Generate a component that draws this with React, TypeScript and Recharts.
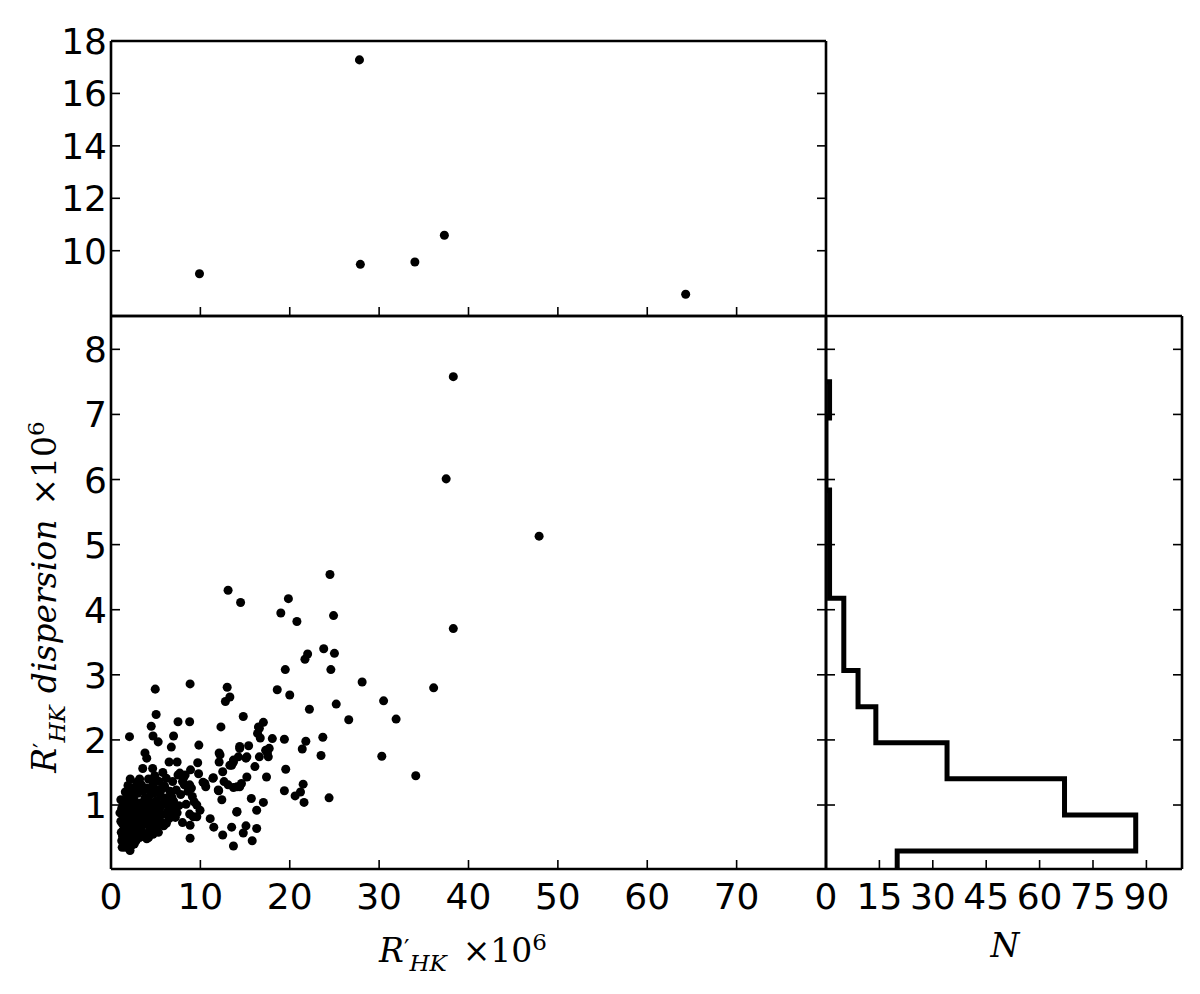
import React from "react";
import { ScatterChart, Scatter, XAxis, YAxis } from "recharts";

// outlier stars shown in the upper panel (R'HK x1e6, dispersion x1e6)
const topPoints: [number, number][] = [
  [9.9, 9.12], [27.8, 17.28], [27.9, 9.48], [34.0, 9.57], [37.3, 10.59], [64.3, 8.34],
];

// the bulk of the sample, main panel
const mainPoints: [number, number][] = [
  [38.3, 7.58], [37.5, 6.01], [47.9, 5.13], [24.5, 4.54], [24.9, 3.91], [38.3, 3.71],
  [13.1, 4.3], [14.5, 4.11], [19.85, 4.17], [19.0, 3.95], [20.8, 3.82],
  [23.8, 3.4], [25.0, 3.33], [22.0, 3.32], [21.7, 3.24], [19.5, 3.08], [24.6, 3.08],
  [28.1, 2.89], [30.5, 2.6], [31.9, 2.32], [26.6, 2.31], [25.2, 2.55], [22.2, 2.47],
  [18.6, 2.77], [20.0, 2.69], [36.1, 2.8],
  [4.95, 2.78], [8.85, 2.86], [13.0, 2.81], [13.3, 2.66], [12.8, 2.59], [14.8, 2.36],
  [5.05, 2.39], [7.5, 2.28], [8.8, 2.28], [4.5, 2.21], [12.3, 2.2], [16.5, 2.2], [17.05, 2.27],
  [2.07, 2.05], [4.7, 2.06], [5.28, 1.97], [7.0, 2.06], [6.75, 1.89], [9.83, 1.92],
  [14.4, 1.9], [15.4, 1.91], [16.6, 2.18], [16.4, 2.1], [16.7, 2.03], [18.05, 2.02], [19.4, 2.01],
  [23.7, 2.04], [21.8, 1.98], [21.4, 1.86], [23.5, 1.76], [30.3, 1.75],
  [17.7, 1.87], [17.5, 1.8], [17.3, 1.84], [16.6, 1.74], [15.1, 1.72], [13.7, 1.69], [13.3, 1.61],
  [12.2, 1.77], [12.1, 1.8], [12.1, 1.66], [12.5, 1.51], [11.4, 1.41], [12.05, 1.22], [12.4, 1.08],
  [10.6, 1.28], [10.3, 1.35], [10.5, 1.33], [9.7, 1.65], [9.8, 1.48], [8.9, 1.54], [8.3, 1.46], [8.0, 1.36],
  [9.0, 1.26], [9.3, 1.05], [9.6, 1.0], [9.2, 0.82], [8.85, 0.69], [8.85, 0.49], [9.96, 0.92], [9.6, 0.82],
  [11.1, 0.79], [11.5, 0.66], [12.5, 0.54], [13.5, 0.66], [13.7, 0.37], [14.1, 0.9], [14.8, 0.57],
  [15.1, 0.68], [15.8, 0.45], [16.3, 0.64], [16.3, 0.92], [17.05, 1.04], [15.7, 1.1], [15.2, 1.43],
  [16.1, 1.59], [17.4, 1.43], [14.4, 1.28], [13.7, 1.27], [13.1, 1.31], [12.65, 1.36], [14.1, 1.28], [14.6, 1.33],
  [13.5, 1.61], [13.7, 1.66], [14.25, 1.74], [14.4, 1.87], [15.2, 1.74], [17.6, 1.74],
  [19.55, 1.55], [19.4, 1.22], [20.6, 1.14], [21.2, 1.2], [21.5, 1.32], [21.6, 1.04], [24.4, 1.11],
  [34.1, 1.45], [11.45, 1.42], [12.0, 1.23], [14.07, 0.89],
  [3.8, 1.8], [4.0, 1.72], [3.55, 1.56], [4.66, 1.56], [6.5, 1.66], [7.4, 1.66], [7.7, 1.49], [8.1, 1.41], [8.8, 1.31],
  // dense clump of quiet stars
  [1.1, 1.08], [1.2, 0.95], [1.3, 0.85], [1.25, 0.72], [1.4, 0.62], [1.3, 0.52], [1.45, 0.92], [1.6, 0.78], [1.15, 0.58], [1.55, 0.47],
  [1.7, 0.66], [1.8, 0.97], [1.9, 0.56], [1.75, 0.42], [2.13, 0.3], [2.05, 0.8], [2.2, 0.48], [2.3, 0.91], [2.0, 1.02], [2.4, 0.62],
  [2.5, 0.71], [2.2, 0.86], [2.6, 0.53], [2.3, 0.38], [2.7, 0.81], [2.8, 0.96], [2.5, 1.12], [2.9, 0.61], [3.0, 0.73], [2.6, 1.27],
  [3.1, 0.88], [3.2, 0.5], [3.3, 1.03], [3.4, 0.66], [3.0, 1.18], [3.5, 0.79], [3.6, 0.93], [3.4, 1.31], [3.7, 0.56], [3.8, 1.11],
  [3.9, 0.71], [4.0, 1.26], [4.1, 0.86], [4.2, 1.4], [4.3, 0.61], [4.4, 1.01], [4.5, 1.19], [4.2, 0.5], [4.6, 0.76], [4.7, 1.31],
  [4.8, 0.91], [4.9, 1.45], [5.0, 1.06], [5.1, 0.66], [5.2, 1.23], [5.3, 0.81], [5.4, 1.36], [5.5, 0.96], [5.6, 1.13], [5.7, 0.73],
  [5.8, 1.5], [5.9, 1.01], [6.0, 1.29], [6.1, 0.86], [6.2, 1.41], [6.3, 1.11], [6.5, 0.79], [6.6, 1.21], [6.7, 0.96], [6.9, 1.36],
  [7.0, 1.06], [7.2, 0.81], [7.3, 1.23], [7.5, 1.46], [7.6, 0.99], [7.8, 1.16], [8.0, 0.73], [8.2, 1.31], [8.4, 1.01], [8.6, 1.21],
  [8.8, 0.86], [9.1, 1.13],
  [1.6, 1.2], [1.9, 1.3], [2.2, 1.18], [2.7, 1.05], [3.2, 1.4], [3.6, 1.22], [2.9, 1.35], [3.9, 0.95], [4.4, 0.7], [1.9, 0.7],
  [2.4, 0.42], [1.6, 0.35], [1.4, 0.4], [2.8, 0.45], [3.5, 0.52], [4.0, 0.48], [4.7, 0.55], [5.3, 0.58], [1.1, 0.75], [1.0, 0.88],
  [2.0, 0.6], [2.6, 0.88], [3.3, 0.8], [4.2, 1.12], [4.8, 1.18], [5.6, 0.85], [6.4, 1.0], [1.8, 1.1], [2.4, 1.0], [3.7, 1.0],
  [4.5, 0.85], [5.1, 0.95], [6.8, 1.12], [7.4, 0.88], [5.9, 0.68], [6.2, 0.72], [1.2, 0.45], [2.9, 0.85], [3.4, 0.58], [5.0, 1.4],
  [1.35, 1.0], [1.5, 0.55], [1.65, 0.9], [1.85, 0.82], [2.1, 0.68], [2.35, 1.08], [2.55, 0.95], [2.75, 0.68], [3.05, 0.98], [3.25, 0.62],
  [3.45, 0.9], [3.65, 0.72], [3.85, 0.84], [4.05, 1.05], [4.25, 0.78], [4.55, 0.98], [4.75, 0.68], [4.95, 1.2], [5.25, 1.02], [5.45, 0.75],
  [5.75, 1.25], [6.05, 1.1], [6.35, 0.9], [6.75, 0.84], [7.1, 0.95], [1.25, 0.35], [1.95, 0.42], [2.6, 0.4], [3.15, 1.22], [2.15, 1.4],
];

// histogram of the dispersion (horizontal, step style)
const histEdges = [-0.262, 0.293, 0.848, 1.402, 1.957, 2.511, 3.066, 3.62, 4.175, 4.729, 5.284, 5.838, 6.393, 6.947, 7.502];
const histCounts = [20, 87, 67, 34, 14, 9, 5, 5, 1, 1, 1, 0, 0, 1];

const xTicksTop = [10, 20, 30, 40, 50, 60, 70];
const xTicksMain = [0, 10, 20, 30, 40, 50, 60, 70];
const yTicksTop = [10, 12, 14, 16, 18];
const yTicksMain = [1, 2, 3, 4, 5, 6, 7, 8];
const nTicks = [0, 15, 30, 45, 60, 75, 90];

const W = 1200;
const H = 994;

const toXY = (arr: [number, number][]) => arr.map(([x, y]) => ({ x, y }));

const histOutline = (() => {
  const pts = [{ x: 0, y: histEdges[0] }];
  histCounts.forEach((c, i) => {
    pts.push({ x: c, y: histEdges[i] });
    pts.push({ x: c, y: histEdges[i + 1] });
  });
  pts.push({ x: 0, y: histEdges[histEdges.length - 1] });
  return pts;
})();

const TICK_LEN = 9;
const tickFontFamily = "'DejaVu Sans', sans-serif";
const serif = "'DejaVu Serif', serif";

type Side = "bottom" | "top" | "left" | "right";

// matplotlib-style inward ticks; x/y given by recharts sit on the spine
const makeTick = (side: Side, withLabel: boolean) => (props: any) => {
  const { x, y, payload } = props;
  let x2 = x;
  let y2 = y;
  if (side === "bottom") y2 = y - TICK_LEN;
  if (side === "top") y2 = y + TICK_LEN;
  if (side === "left") x2 = x + TICK_LEN;
  if (side === "right") x2 = x - TICK_LEN;
  return (
    <g>
      <line x1={x} y1={y} x2={x2} y2={y2} stroke="#000" strokeWidth={1.6} />
      {withLabel && side === "bottom" && (
        <text x={x} y={y + 40} textAnchor="middle" fontSize={36} fontFamily={tickFontFamily} fill="#000">
          {payload.value}
        </text>
      )}
      {withLabel && side === "left" && (
        <text x={x - 4} y={y + 13} textAnchor="end" fontSize={36} fontFamily={tickFontFamily} fill="#000">
          {payload.value}
        </text>
      )}
    </g>
  );
};

// axes are 1px thick (recharts skips zero-sized axes), margins below compensate
function frame(
  xDomain: number[],
  yDomain: number[],
  xTicks: number[],
  xTopTicks: number[],
  yTicks: number[],
  showX: boolean,
  showY: boolean
) {
  const common = {
    type: "number" as const,
    interval: 0 as const,
    allowDataOverflow: true,
    stroke: "#000",
    strokeWidth: 2.6,
    tickLine: false,
    tickSize: 0,
    tickMargin: 0,
  };
  return [
    <XAxis key="xb" xAxisId="b" dataKey="x" domain={xDomain} ticks={xTicks} height={1}
      tick={makeTick("bottom", showX)} {...common} />,
    <XAxis key="xt" xAxisId="t" orientation="top" domain={xDomain} ticks={xTopTicks} height={1}
      tick={makeTick("top", false)} {...common} />,
    <YAxis key="yl" yAxisId="l" dataKey="y" domain={yDomain} ticks={yTicks} width={1}
      tick={makeTick("left", showY)} {...common} />,
    <YAxis key="yr" yAxisId="r" orientation="right" domain={yDomain} ticks={yTicks} width={1}
      tick={makeTick("right", false)} {...common} />,
  ];
}

const NoDot = () => <g />;

const layer: React.CSSProperties = { position: "absolute", left: 0, top: 0 };

export default function App() {
  return (
    <div style={{ position: "absolute", left: 0, top: 0, width: W, height: H, background: "#fff" }}>
      <div style={layer}>
        <ScatterChart width={W} height={H} margin={{ top: 40, left: 110, right: 373, bottom: 677 }}>
          {frame([0, 80], [7.51, 18], xTicksTop, xTicksTop, yTicksTop, false, true)}
          <Scatter data={toXY(topPoints)} xAxisId="b" yAxisId="l" fill="#000" isAnimationActive={false} />
        </ScatterChart>
      </div>
      <div style={layer}>
        <ScatterChart width={W} height={H} margin={{ top: 315, left: 110, right: 373, bottom: 124 }}>
          {frame([0, 80], [0.017, 8.512], xTicksMain, xTicksMain, yTicksMain, true, true)}
          <Scatter data={toXY(mainPoints)} xAxisId="b" yAxisId="l" fill="#000" isAnimationActive={false} />
        </ScatterChart>
      </div>
      <div style={layer}>
        <ScatterChart width={W} height={H} margin={{ top: 315, left: 825, right: 17, bottom: 124 }}>
          {frame([0, 100], [0.017, 8.512], nTicks, nTicks, yTicksMain, true, false)}
          <Scatter
            data={histOutline}
            xAxisId="b"
            yAxisId="l"
            line={{ stroke: "#000", strokeWidth: 5 }}
            lineType="joint"
            shape={NoDot}
            isAnimationActive={false}
          />
        </ScatterChart>
      </div>
      <svg width={W} height={H} style={layer}>
        <text x={463} y={962} textAnchor="middle" fontFamily={serif} fontSize={33} fill="#000">
          <tspan fontStyle="italic">R</tspan>
          <tspan fontSize={24} dy={-5}>′</tspan>
          <tspan fontStyle="italic" fontSize={23} dy={14}>HK</tspan>
          <tspan dx={16} dy={-9}>×10</tspan>
          <tspan fontSize={23} dy={-12}>6</tspan>
        </text>
        <text transform="translate(56,597) rotate(-90)" textAnchor="middle" fontFamily={serif} fontSize={33} fill="#000">
          <tspan fontStyle="italic">R</tspan>
          <tspan fontSize={24} dy={-5}>′</tspan>
          <tspan fontStyle="italic" fontSize={23} dy={14}>HK</tspan>
          <tspan fontStyle="italic" dx={12} dy={-9}>dispersion</tspan>
          <tspan dx={14}>×10</tspan>
          <tspan fontSize={23} dy={-12}>6</tspan>
        </text>
        <text x={1005} y={957} textAnchor="middle" fontFamily={serif} fontSize={33} fontStyle="italic" fill="#000">
          N
        </text>
      </svg>
    </div>
  );
}
